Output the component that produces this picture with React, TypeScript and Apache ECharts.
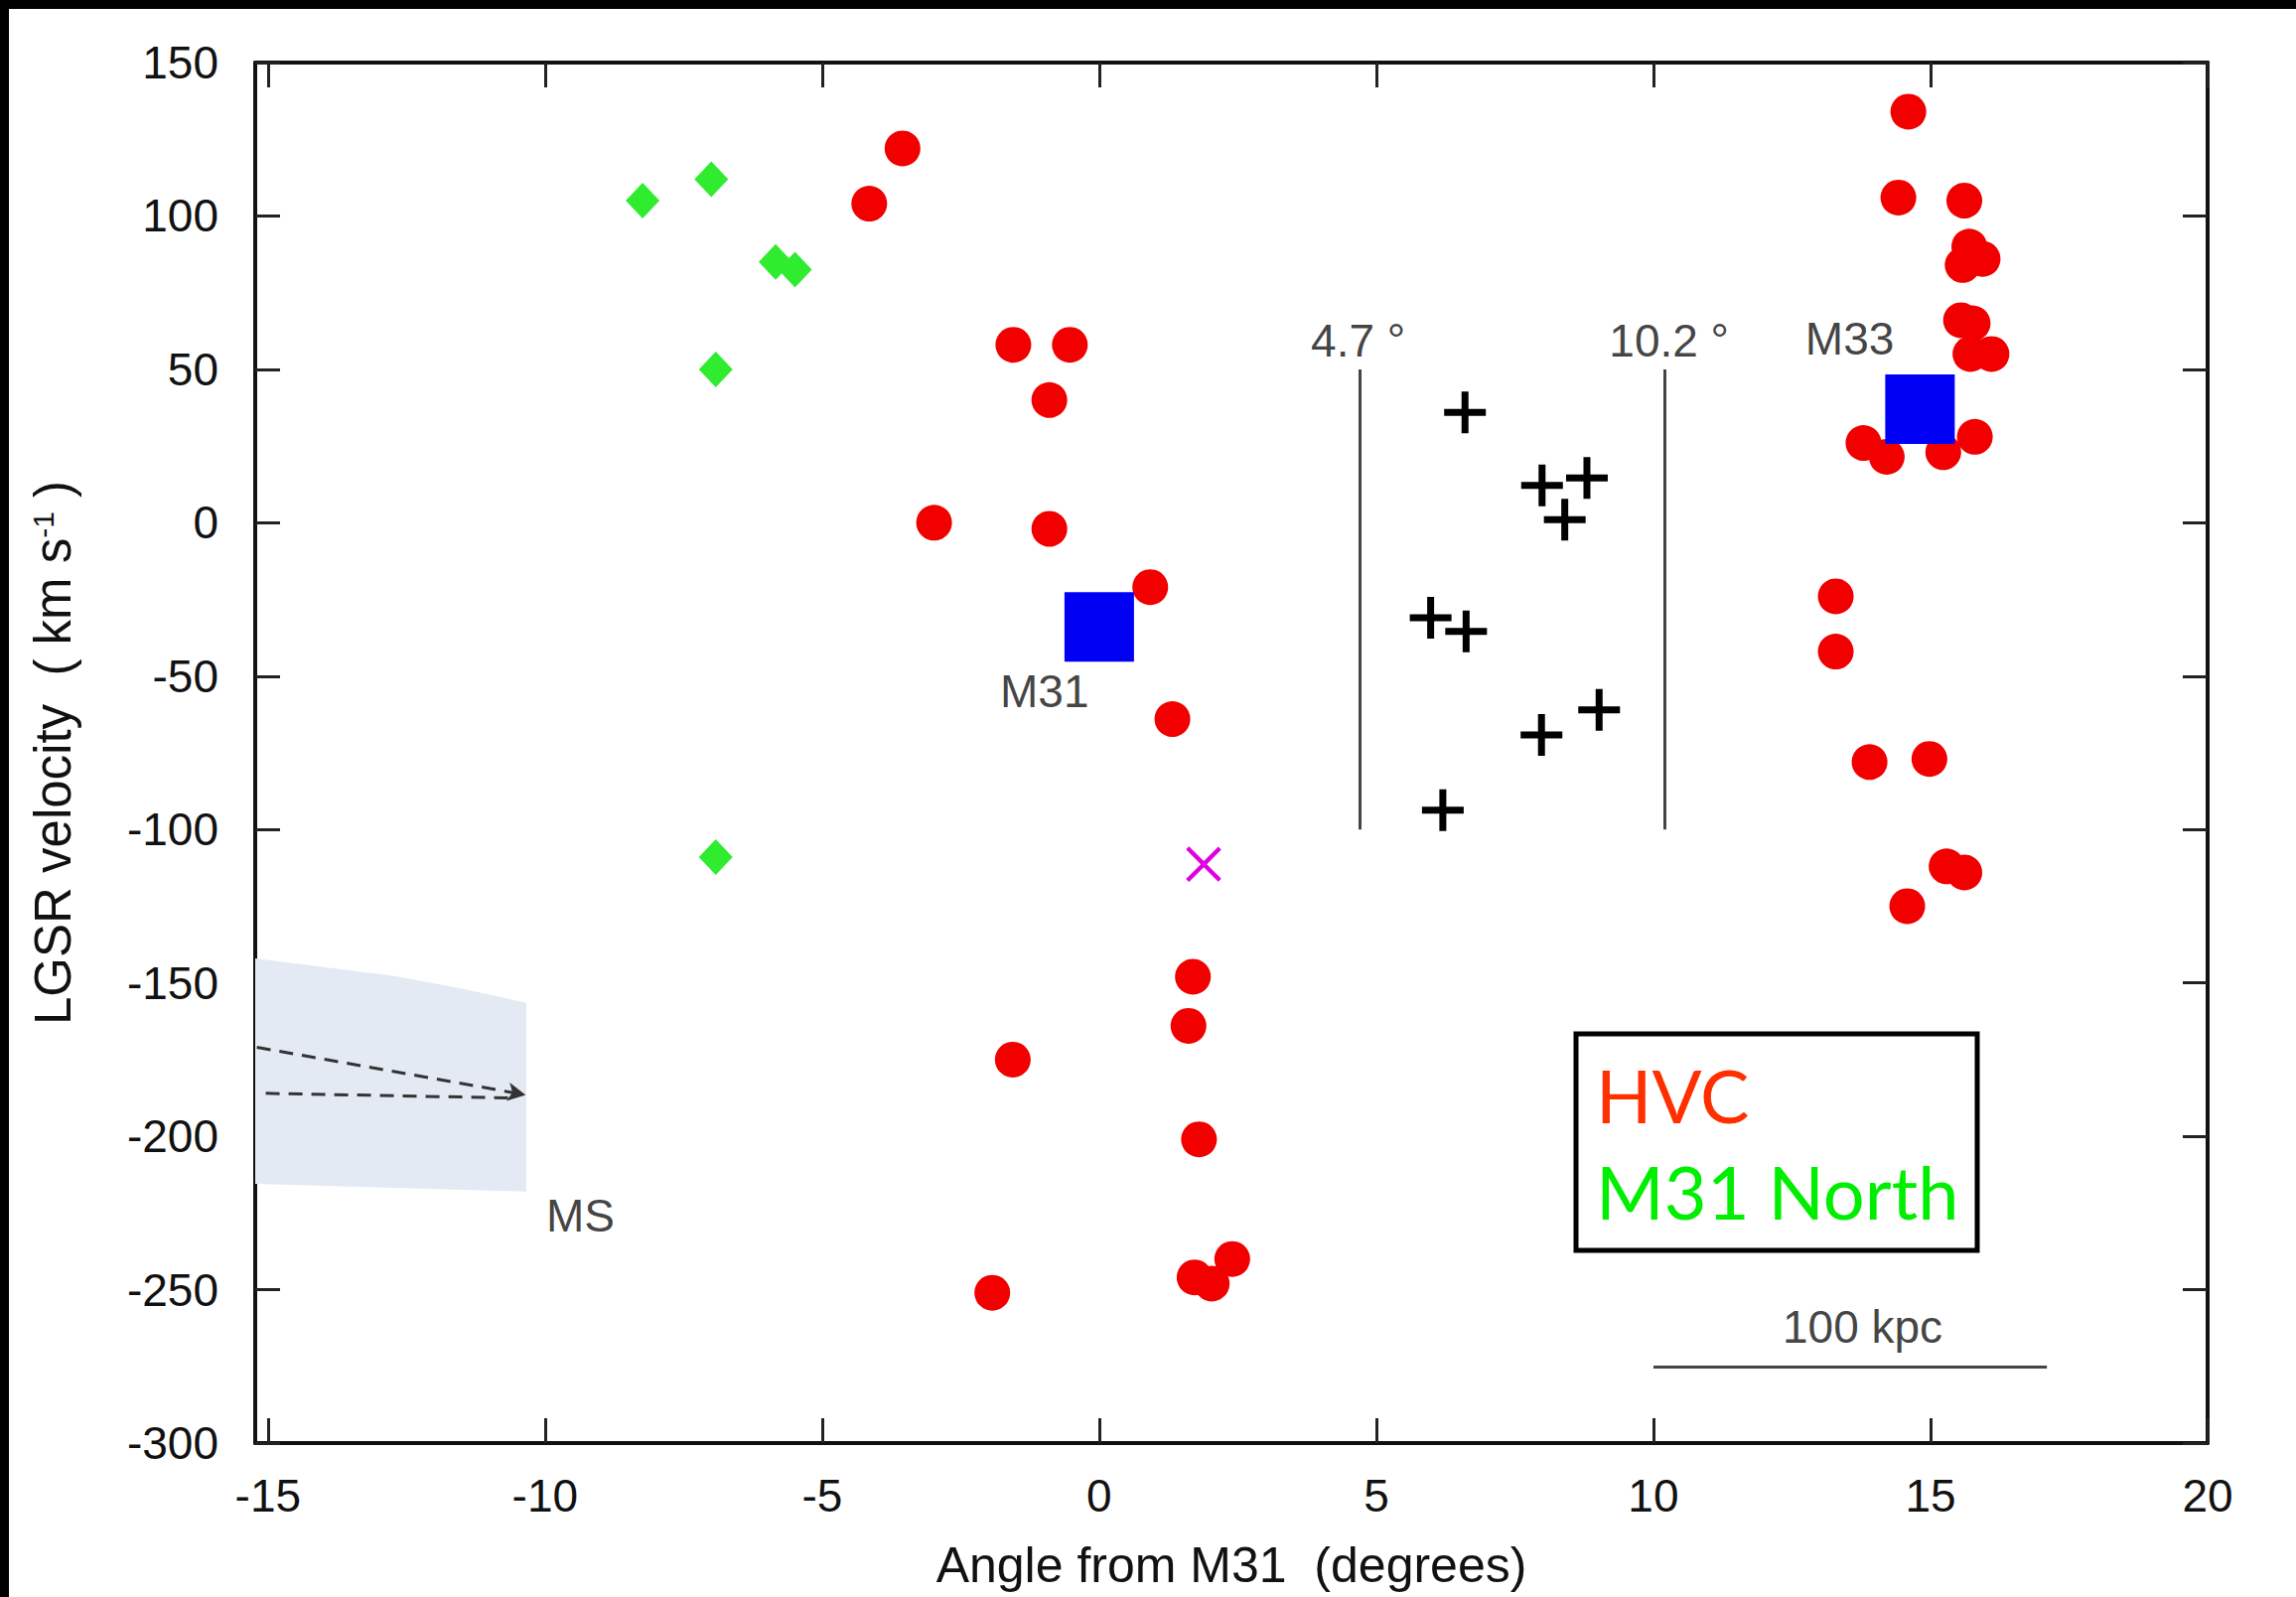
import React, { useEffect, useRef } from "react";
import * as echarts from "echarts";

// Axis ticks
const xTicks = [-15, -10, -5, 0, 5, 10, 15, 20];
const yMin = -300;
const yMax = 150;
const yStep = 50;
const xMin = -15.23;
const xMax = 20;

// High-velocity clouds (angle from M31 in degrees, LGSR velocity in km/s)
const hvcClouds: number[][] = [
  [-3.55, 122], [-4.15, 104], [-1.55, 58], [-0.53, 58], [-0.9, 40], [-2.98, 0],
  [-0.9, -2], [0.92, -21], [1.32, -64], [1.69, -148], [1.61, -164], [-1.56, -175],
  [1.8, -201], [-1.93, -251], [1.72, -246], [2.03, -248], [2.4, -240],
  [14.6, 134], [14.42, 106], [15.61, 105], [15.7, 90], [15.58, 84], [15.94, 86],
  [15.55, 66], [15.76, 65], [15.72, 55], [16.1, 55], [13.79, 26], [14.21, 21.5],
  [15.23, 23], [15.8, 28], [13.29, -24], [13.29, -42], [13.9, -78], [14.98, -77],
  [15.29, -112], [15.61, -114], [14.58, -125],
];

// M31 North clouds
const m31North: number[][] = [
  [-8.24, 105], [-7.0, 112], [-6.92, 50], [-5.84, 85], [-5.49, 82.5], [-6.92, -109],
];

// Clouds between M31 and M33
const bridgeClouds: number[][] = [
  [6.6, 36], [7.99, 12.2], [8.8, 14.6], [8.4, 1], [5.98, -31], [6.62, -35.4],
  [7.98, -69.2], [9.02, -61], [6.2, -93.7],
];

// Single cross-marked detection
const crossMark: number[][] = [[1.88, -111.3]];

// Galaxy systemic positions
const galaxies: number[][] = [[0, -34], [14.81, 37]];

// Angular limits drawn as vertical bars, and the velocity span they cover
const angleBounds = [4.7, 10.2];
const boundVelocity = [50, -100];

// 100 kpc scale bar ends
const scaleBar: number[][] = [[10.0, -275], [17.1, -275]];

// Magellanic Stream band outline and tracks
const msBandTop: number[][] = [[-15.23, -142], [-12.72, -147.8], [-11.54, -151.7], [-10.34, -156.5]];
const msBandBottom: number[][] = [[-10.34, -218], [-15.23, -215.5]];
const msUpperTrack: number[][] = [[-15.2, -171], [-10.35, -186.5]];
const msLowerTrack: number[][] = [[-15.04, -186], [-10.6, -187.5]];

// Text annotations: [angle, velocity, text]
const annotations: (number | string)[][] = [
  [3.82, 59.5, "4.7 °"],
  [9.2, 59.5, "10.2 °"],
  [12.74, 60, "M33"],
  [-1.79, -55, "M31"],
  [-9.98, -226, "MS"],
  [12.33, -262, "100 kpc"],
];

const legendItems = [
  { text: "HVC", color: "#ff2f00" },
  { text: "M31 North", color: "#00ee00" },
];

const FONT = "Liberation Sans";
const PLUS_PATH = "path://M17.5,0 H24.5 V17.5 H42 V24.5 H24.5 V42 H17.5 V24.5 H0 V17.5 H17.5 Z";
const X_PATH = "path://M22,0 H26.5 V22 H48 V26.5 H26.5 V48 H22 V26.5 H0 V22 H22 Z";

export default function App() {
  const ref = useRef<HTMLDivElement>(null);

  useEffect(() => {
    if (!ref.current) return;
    const chart = echarts.init(ref.current, undefined, { renderer: "svg" });

    const axisLine = { show: true, onZero: false, lineStyle: { color: "#111", width: 4 } };
    const tickStyle = { color: "#222", width: 3 };

    const option: any = {
      animation: false,
      backgroundColor: "#fff",
      grid: { left: 257, right: 89, top: 63, bottom: 155 },
      xAxis: [
        {
          type: "value",
          min: xMin,
          max: xMax,
          position: "bottom",
          axisLine,
          splitLine: { show: false },
          axisTick: { inside: true, length: 25, lineStyle: tickStyle, customValues: xTicks },
          axisLabel: {
            customValues: xTicks,
            margin: 30,
            fontSize: 46,
            fontFamily: FONT,
            color: "#111",
          },
          name: "Angle from M31  (degrees)",
          nameLocation: "middle",
          nameGap: 98,
          nameTextStyle: { fontSize: 50, fontFamily: FONT, color: "#111" },
        },
        {
          type: "value",
          min: xMin,
          max: xMax,
          position: "top",
          axisLine,
          splitLine: { show: false },
          axisTick: { inside: true, length: 25, lineStyle: tickStyle, customValues: xTicks },
          axisLabel: { show: false },
        },
      ],
      yAxis: [
        {
          type: "value",
          min: yMin,
          max: yMax,
          interval: yStep,
          position: "left",
          axisLine,
          splitLine: { show: false },
          axisTick: { inside: true, length: 25, lineStyle: tickStyle },
          axisLabel: { margin: 37, fontSize: 46, fontFamily: FONT, color: "#111" },
          name: "LGSR velocity  ( km s{sup|-1} )",
          nameLocation: "middle",
          nameRotate: 90,
          nameGap: 178,
          nameTextStyle: {
            fontSize: 51,
            fontFamily: FONT,
            color: "#111",
            rich: {
              sup: { fontSize: 30, fontFamily: FONT, color: "#111", verticalAlign: "top", lineHeight: 51 },
            },
          },
        },
        {
          type: "value",
          min: yMin,
          max: yMax,
          interval: yStep,
          position: "right",
          axisLine,
          splitLine: { show: false },
          axisTick: { inside: true, length: 25, lineStyle: tickStyle },
          axisLabel: { show: false },
        },
      ],
      series: [
        {
          name: "MS band",
          type: "custom",
          silent: true,
          z: 1,
          data: [[msBandTop[0][0], msBandTop[0][1]]],
          renderItem: (_params: any, api: any) => ({
            type: "polygon",
            shape: { points: [...msBandTop, ...msBandBottom].map((p) => api.coord(p)) },
            style: { fill: "#e3eaf3" },
          }),
        },
        {
          name: "MS tracks",
          type: "line",
          data: [],
          z: 2,
          markLine: {
            silent: true,
            symbol: ["none", "none"],
            label: { show: false },
            lineStyle: { color: "#333", width: 3, type: [14, 9] },
            data: [
              [
                { coord: msUpperTrack[0] },
                { coord: msUpperTrack[1], symbol: "arrow", symbolSize: [14, 18] },
              ],
              [{ coord: msLowerTrack[0] }, { coord: msLowerTrack[1] }],
            ],
          },
        },
        {
          name: "Bounds",
          type: "line",
          data: [],
          z: 2,
          markLine: {
            silent: true,
            symbol: ["none", "none"],
            label: { show: false },
            lineStyle: { color: "#444", width: 3, type: "solid" },
            data: [
              ...angleBounds.map((a) => [
                { coord: [a, boundVelocity[0]] },
                { coord: [a, boundVelocity[1]] },
              ]),
              [{ coord: scaleBar[0] }, { coord: scaleBar[1] }],
            ],
          },
        },
        {
          name: "HVC",
          type: "scatter",
          data: hvcClouds,
          symbol: "circle",
          symbolSize: 36,
          itemStyle: { color: "#f20000", opacity: 1 },
          z: 3,
        },
        {
          name: "M31 North",
          type: "scatter",
          data: m31North,
          symbol: "diamond",
          symbolSize: [34, 36],
          itemStyle: { color: "#2fec2f", opacity: 1 },
          z: 3,
        },
        {
          name: "Bridge",
          type: "scatter",
          data: bridgeClouds,
          symbol: PLUS_PATH,
          symbolSize: 42,
          itemStyle: { color: "#000", opacity: 1 },
          z: 3,
        },
        {
          name: "Cross",
          type: "scatter",
          data: crossMark,
          symbol: X_PATH,
          symbolSize: 46,
          symbolRotate: 45,
          itemStyle: { color: "#e000e0", opacity: 1 },
          z: 3,
        },
        {
          name: "Galaxies",
          type: "scatter",
          data: galaxies,
          symbol: "rect",
          symbolSize: 70,
          itemStyle: { color: "#0000f5", opacity: 1 },
          z: 4,
        },
        {
          name: "Annotations",
          type: "scatter",
          data: annotations,
          symbolSize: 0,
          silent: true,
          z: 5,
          label: {
            show: true,
            position: "right",
            distance: 0,
            formatter: (p: any) => p.value[2],
            fontSize: 46,
            fontFamily: FONT,
            color: "#111",
          },
        },
      ],
      graphic: [
        { type: "rect", shape: { x: 0, y: 0, width: 2312, height: 9 }, style: { fill: "#000" } },
        { type: "rect", shape: { x: 0, y: 0, width: 9, height: 1608 }, style: { fill: "#000" } },
        {
          type: "rect",
          z: 10,
          shape: { x: 1587, y: 1041, width: 404, height: 218 },
          style: { fill: "#fff", stroke: "#000", lineWidth: 5 },
        },
        ...legendItems.map((it, i) => ({
          type: "text",
          z: 11,
          x: 1607,
          y: 1102 + i * 97,
          style: {
            text: it.text,
            fill: it.color,
            fontSize: 74,
            fontFamily: "Lato",
            verticalAlign: "middle",
            align: "left",
          },
        })),
      ],
    };

    chart.setOption(option);
    return () => chart.dispose();
  }, []);

  return (
    <div
      ref={ref}
      style={{ position: "fixed", left: 0, top: 0, width: 2312, height: 1608, background: "#fff" }}
    />
  );
}
